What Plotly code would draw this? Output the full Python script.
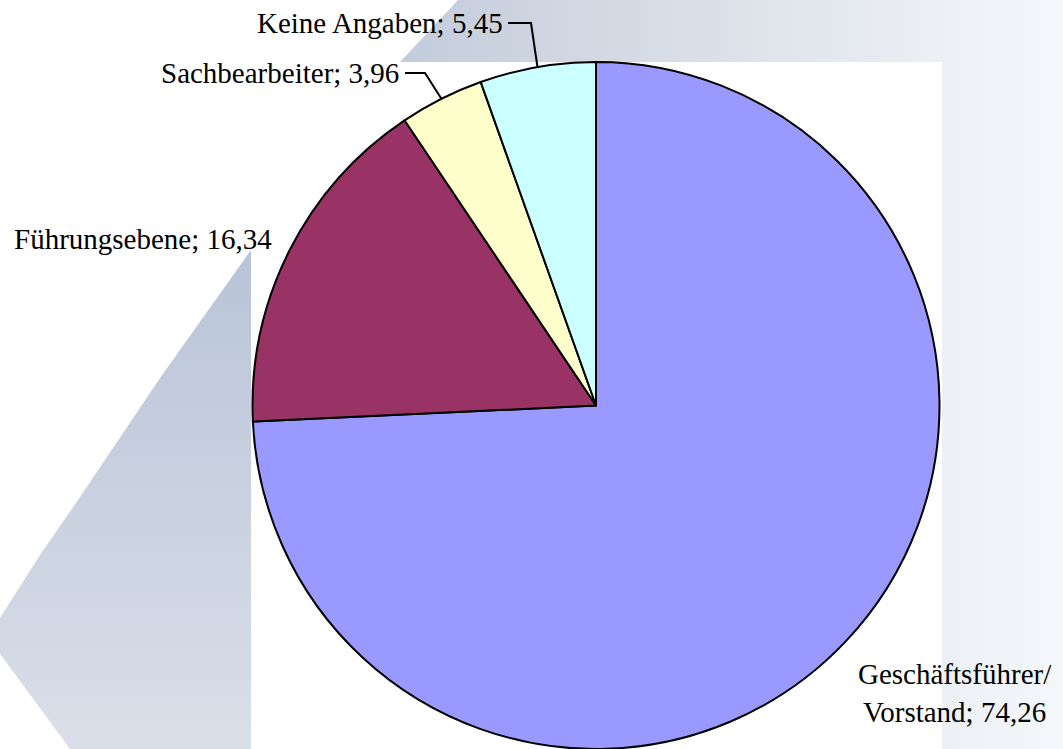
import math
import plotly.graph_objects as go

# ---- data ----
categories = ["Geschäftsführer/<br>Vorstand", "Führungsebene", "Sachbearbeiter", "Keine Angaben"]
values = [74.26, 16.34, 3.96, 5.45]
value_labels = ["74,26", "16,34", "3,96", "5,45"]
colors = ["#9999FF", "#993366", "#FFFFCC", "#CCFFFF"]

W, H = 1063, 749
FONT = "Liberation Serif, Times New Roman, serif"

# pie geometry (pixels)
dom_x = [(596 - 345) / W, (596 + 345) / W]
dom_y = [0.0, 1 - 62 / H]
cx = (dom_x[0] + dom_x[1]) / 2 * W
cy = H - (dom_y[0] + dom_y[1]) / 2 * H
R = min((dom_x[1] - dom_x[0]) * W, (dom_y[1] - dom_y[0]) * H) / 2

fig = go.Figure()

# ---- decorative background ----
fig.add_trace(go.Scatter(
    x=[458, 1063, 1063, 942, 942, 400, 458],
    y=[0, 0, 749, 749, 62, 62, 0],
    fill="toself", mode="lines", line=dict(width=0),
    fillgradient=dict(type="horizontal",
                      colorscale=[[0, "#C2CBDA"], [0.5, "#DCE1E9"], [1, "#F5F8FB"]],
                      start=380, stop=1063),
    hoverinfo="skip", showlegend=False))
fig.add_trace(go.Scatter(
    x=[251, 251, 70, -10, 0, 40, 78, 160, 251],
    y=[250, 749, 749, 640, 618, 555, 500, 378, 250],
    fill="toself", mode="lines", line=dict(width=0),
    fillgradient=dict(type="vertical",
                      colorscale=[[0, "#B8C4D7"], [1, "#DADFE9"]],
                      start=250, stop=749),
    hoverinfo="skip", showlegend=False))

# ---- leader lines computed from slice mid-angles ----
total = sum(values)
cum = 0
mid_pts = []
for v in values:
    mid = (cum + v / 2) / total * 360
    cum += v
    th = math.radians(mid)
    mid_pts.append((cx + R * math.sin(th), cy - R * math.cos(th)))

leader_ends = {2: [(425, 73), (405, 73)], 3: [(531, 23), (508, 23)]}
for i, pts in leader_ends.items():
    ex, ey = mid_pts[i]
    fig.add_trace(go.Scatter(
        x=[ex, pts[0][0], pts[1][0]], y=[ey, pts[0][1], pts[1][1]],
        mode="lines", line=dict(color="black", width=2),
        hoverinfo="skip", showlegend=False))

# ---- pie ----
fig.add_trace(go.Pie(
    labels=categories, values=values, sort=False, direction="clockwise",
    rotation=0, textinfo="none", hoverinfo="skip",
    marker=dict(colors=colors, line=dict(color="black", width=2)),
    domain=dict(x=dom_x, y=dom_y), showlegend=False))

# ---- labels ----
label_pos = [
    dict(x=955, y=693, xanchor="center", align="center"),
    dict(x=12, y=239, xanchor="left", align="left"),
    dict(x=401, y=73, xanchor="right", align="right"),
    dict(x=505, y=23, xanchor="right", align="right"),
]
for cat, vl, p in zip(categories, value_labels, label_pos):
    fig.add_annotation(text=f"{cat}; {vl}", xref="x", yref="y",
                       x=p["x"], y=p["y"], xanchor=p["xanchor"], yanchor="middle",
                       align=p["align"], showarrow=False,
                       font=dict(family=FONT, size=29, color="black"))

fig.update_layout(
    width=W, height=H, margin=dict(l=0, r=0, t=0, b=0),
    paper_bgcolor="white", plot_bgcolor="rgba(0,0,0,0)",
    xaxis=dict(range=[0, W], visible=False, fixedrange=True),
    yaxis=dict(range=[H, 0], visible=False, fixedrange=True),
    showlegend=False,
)

fig.write_html("out.html", config={"displayModeBar": False},
               post_script="document.body.style.margin='0px';document.body.style.overflow='hidden';")
